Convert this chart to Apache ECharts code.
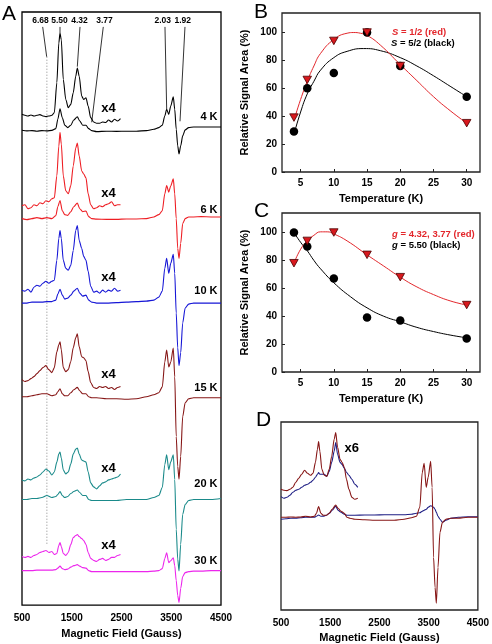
<!DOCTYPE html>
<html><head><meta charset="utf-8">
<script src="https://cdn.jsdelivr.net/npm/echarts@6/dist/echarts.min.js"></script>
<style>html,body{margin:0;padding:0;background:#fff}#c{width:492px;height:644px}</style>
</head><body><div id="c"></div>
<script>
// ---------- Panel A / D spectra (field in Gauss, intensity in arbitrary units) ----------
const fieldMain = [500,600,700,800,900,1000,1100,1180,1220,1264,1310,1360,1420,1480,1540,1612,1660,1720,1786,1840,1900,2000,2200,2400,2600,2800,3000,3150,3250,3320,3370,3408,3450,3490,3541,3570,3600,3630,3656,3690,3730,3780,3850,3950,4100,4300,4500];
const fieldInset = [500,560,620,680,740,800,860,920,980,1040,1100,1150,1200,1240,1264,1290,1330,1380,1430,1480,1530,1580,1612,1650,1700,1740,1786,1830,1880,1940,2000,2060,2120,2180,2240,2300,2360,2420,2480];
const fieldTicks = [500,1500,2500,3500,4500];

const temps = ['4 K','6 K','10 K','15 K','20 K','30 K'];
const tempColors = ['#000000','#EE1D23','#1616D6','#861616','#1A8A8A','#EC26EC'];

const main4K  = [0.7,0,0.3,-0.3,0.3,0,0.5,2.3,11.7,22.3,13.3,5.7,3.3,5.7,11,14.3,10,5.7,5.7,2.3,0.3,-0.7,-0.3,-0.5,-0.3,-0.3,0.3,1.7,3.3,5.7,15,21.7,16.7,25,34.3,21.7,1.7,-15,-23.3,-15,-5,1,3.3,4,4,4,4];
const main6K  = [0,-1,0,1,0,1,0,3,12,18.3,8,4,3.3,7,12,15.7,10,7,7.7,2,0,-0.5,-0.7,-0.7,-0.3,-0.3,0,1.7,4,8,25,33.3,26.7,33,40,25,0,-30,-40,-25,-5,0,1.7,1.7,2,1.7,1.7];
const main10K = [0,0,1,1,1,1.5,1.5,3,9,14,8,4,5,8,12,15,10,7,8,3,1,0,0,0.5,1,1.5,2,3,6,12,35,45,30,40,49,30,-10,-45,-63,-50,-20,-5,-1,0,0,0,0];
const main15K = [0,0,1,2,3,3,1,2,5,8,3,1,1,4,7,9.5,6,3,3,0,-1,-1,-2,-2,-2.5,-2,0,2,4,10,35,47,30,35,49,20,-40,-70,-83,-60,-20,-6,-2,-1,-1,-1,-1];
const main20K = [0,0,1,1,2,4,2,3,5,8,4,2,3,6,8,9.5,7,4,4,0,-1,-1,-1,-1,0,0,0,2,4,12,35,45,30,38,45,20,-30,-60,-72,-45,-15,-5,-1,0,0,0,1];
const main30K = [0,0,0,0.5,0.5,0.5,0.5,1,2.5,4.5,2,1,1.5,3.5,5,6,4.5,3,2.5,0,-1,-1,-1,-1,-1,-1,-1,-0.5,0,2,12,18,8,10,13,5,-10,-25,-32,-18,-6,-2,-1,-0.5,-0.5,0,0];

const inset4K  = [0,-1,-1.7,-0.7,-1.7,-1,-0.3,-1.7,-2.3,-1.7,-1,1.7,31.7,71.7,81.7,75,35,15,6.7,10,21.7,38.3,46.7,38.3,18.3,15,16.7,8.3,-3.3,-7.7,-9,-9,-7.7,-8.3,-5.7,-7.7,-5,-6.7,-4.3];
const inset6K  = [0,1,-3,-2,1,0,3,2,5,4,7,8,30,60,74,62,30,15,12,20,40,58,63,50,35,32,28,12,1,-3,-2,0,-1,1,2,4,0,1,1];
const inset10K = [0,-1,1,-2,3,5,4,7,9,7,9,10,30,52,60,52,30,22,20,25,40,60,65,50,42,34,30,19,4,-2,-1,-3,0,-2,0,-1,2,-1,0];
const inset15K = [0,-2,-1,1,3,6,9,12,14,10,7,12,28,35,38,30,12,8,10,18,32,42,46,33,23,22,19,8,-3,-8,-9,-7,-8,-7,-9,-8,-10,-8,-7];
const inset20K = [0,-1,1,0,2,3,5,8,11,9,5,8,18,26,28,22,10,6,8,16,26,31,32,26,20,19,18,8,-3,-7,-9,-6,-3,-2,0,1,2,3,6];
const inset30K = [0,-1,0,-1,1,2,4,5,6,4,5,2,3,11,14,10,3,1,4,12,19,21,22,20,18,16,12,4,-2,-4,-5,-3,-2,-4,-3,-1,-1,1,2];

const mainSpectra  = [main4K, main6K, main10K, main15K, main20K, main30K];
const insetSpectra = [inset4K, inset6K, inset10K, inset15K, inset20K, inset30K];
const mainOffsetA  = [477.3, 389, 304, 209.7, 106.3, 34.7];
const insetOffsetA = [494, 402, 317, 227, 126, 49];
const tempLabelY   = [491, 397, 316, 218, 121, 44];
const x4LabelY     = [499, 414, 329, 232, 137, 60];

// g-value annotations (panel A)
const gLabels     = ['6.68','5.50','4.32','3.77','2.03','1.92'];
const gLabelField = [882, 1264, 1666, 2168, 3340, 3742];
const gLineTopF   = [916, 1264, 1666, 2134, 3374, 3776];
const gPeakField  = [996, 1264, 1612, 1901, 3408, 3676];
const gPeakY      = [552, 576, 542, 486, 499, 487];

// Panel D
const dMainRed  = [0,0,0.3,0,0.3,1,0.3,1,4,10.7,4,2,2,4,8,12.3,9,6,4,0,-1,-2,-2.5,-3,-3,-3,-2,-0.5,1,10,45,54,30,40,56,30,-40,-70,-86,-50,-15,-5,-2,-1,-1,0,0];
const dMainNavy = [-2,-1.5,-1,-1,-0.5,0,0,0,1,2.3,1,1,2,4,7,11,7,5,3,2,2,2,2.3,2.3,2.5,2.5,2.5,3,4,4.5,6,7,8,10,11.5,11,10,8,5,1,-2,-5,-3,-1,0,0.5,0.5];
const dInsetRed  = [0,-1,-1.3,0,2,7,11,15,19,16,14,16,27,40,47.7,38,20,14,13,20,33,50,56.7,42,30,27,22,10,0,-8,-10,-9];
const dInsetNavy = [-7.3,-9,-8,-6,-3,-1,0,2,4,5,7,9,12,15,16.7,15,15,15,13,18,27,38,46.7,35,27,25,21,17,14,10,5,2];
const dColors = ['#861616','#1E1E84'];
const dMainOffset = 92.7, dInsetOffset = 120.7;

// ---------- Panels B, C ----------
const temperature = [4, 6, 10, 15, 20, 30];
const tempTicks = [5, 10, 15, 20, 25, 30];
const pctTicks = [0, 20, 40, 60, 80, 100];
const bRed   = [39, 66, 94, 100, 76, 35];
const bBlack = [29, 60, 71, 100, 76, 54];
const cRed   = [78, 94, 100, 84, 68, 48];
const cBlack = [100, 90, 67, 39, 37, 24];
const bRedFit   = [[4,37],[5,52],[6,65],[7,76],[8,85],[10,95],[12,99.5],[13,100],[14,99.5],[15,98],[17,91],[20,77],[22.5,65.5],[25,54],[27.5,44],[30,35]];
const bBlackFit = [[4,27],[5,43],[6,56],[7,65],[8,73],[10,82],[12,86.5],[14.5,88.5],[17,87],[20,82],[22.5,76],[25,69],[27.5,61.5],[30,54]];
const cRedFit   = [[4,78],[5,88],[6,94],[7,98],[8,100.5],[9,100.5],[10,99],[12,94],[15,84],[17.5,76],[20,68],[22.5,61],[25,55.5],[27.5,51],[30,48]];
const cBlackFit = [[4,100],[5,93],[6,87],[7,80],[8,74],[10,64],[12.5,54],[15,46],[17.5,40],[20,36],[22.5,32],[25,29],[27.5,26.5],[30,24.5]];

// ---------- build ----------
const FONT = '"Liberation Sans", Arial, sans-serif';
const RED = '#E3262B';
function zip(xs, ys, off) { return ys.map((v, i) => [xs[i], v + off]); }

const chart = echarts.init(document.getElementById('c'), null, {renderer: 'canvas'});
const series = [];

function spec(xi, yi, data, color, w) {
  series.push({type: 'line', xAxisIndex: xi, yAxisIndex: yi, data: data, symbol: 'none', smooth: 0.25, smoothMonotone: 'x',
    lineStyle: {color: color, width: w || 1.1}, silent: true, animation: false, z: 3});
}
function textPts(xi, yi, pts, opts) {
  series.push({type: 'scatter', xAxisIndex: xi, yAxisIndex: yi, symbolSize: 1, silent: true, animation: false,
    itemStyle: {opacity: 0}, z: 6,
    data: pts.map(p => ({value: [p[0], p[1]], name: p[2]})),
    label: Object.assign({show: true, position: [0, 0], formatter: '{b}', color: '#000', opacity: 1,
      textBorderWidth: 0, fontFamily: FONT, fontWeight: 'bold'}, opts)});
}

// Panel A
mainSpectra.forEach((s, i) => spec(0, 0, zip(fieldMain, s, mainOffsetA[i]), tempColors[i]));
insetSpectra.forEach((s, i) => spec(0, 0, zip(fieldInset, s, insetOffsetA[i]), tempColors[i]));
// dotted line at g = 6.68
series.push({type: 'line', xAxisIndex: 0, yAxisIndex: 0, data: [[1000, 552], [1000, 61]], symbol: 'none',
  lineStyle: {color: '#888', width: 1, type: [1, 2]}, silent: true, animation: false, z: 2});
gLabels.forEach((g, i) => {
  series.push({type: 'line', xAxisIndex: 0, yAxisIndex: 0, data: [[gLineTopF[i], 582], [gPeakField[i], gPeakY[i]]],
    symbol: 'none', lineStyle: {color: '#000', width: 0.8}, silent: true, animation: false, z: 4});
});
textPts(0, 0, gLabels.map((g, i) => [gLabelField[i], 588, g]), {fontSize: 8.5, align: 'center', verticalAlign: 'middle'});
textPts(0, 0, temps.map((t, i) => [4440, tempLabelY[i], t]), {fontSize: 11, align: 'right', verticalAlign: 'middle'});
textPts(0, 0, temps.map((t, i) => [2249, x4LabelY[i], 'x4']), {fontSize: 13, align: 'center', verticalAlign: 'middle'});

// Panel D
spec(3, 3, zip(fieldMain, dMainNavy, dMainOffset), dColors[1]);
spec(3, 3, zip(fieldInset, dInsetNavy, dInsetOffset), dColors[1]);
spec(3, 3, zip(fieldMain, dMainRed, dMainOffset), dColors[0]);
spec(3, 3, zip(fieldInset, dInsetRed, dInsetOffset), dColors[0]);
textPts(3, 3, [[1800, 160.7, 'x6']], {fontSize: 13, align: 'left', verticalAlign: 'middle'});

// Panels B & C
function fitLine(idx, data, color) {
  series.push({type: 'line', xAxisIndex: idx, yAxisIndex: idx, data: data, symbol: 'none', smooth: 0.5,
    lineStyle: {color: color, width: 1}, silent: true, animation: false, z: 3});
}
function pts(idx, ys, kind) {
  const tri = kind === 'tri';
  series.push({type: 'scatter', xAxisIndex: idx, yAxisIndex: idx, data: ys.map((v, i) => [temperature[i], v]),
    symbol: tri ? 'triangle' : 'circle', symbolRotate: tri ? 180 : 0, symbolSize: tri ? [8.5, 7.5] : 8.5,
    itemStyle: tri ? {color: '#D8191E', borderColor: '#4a0000', borderWidth: 0.8, opacity: 1} : {color: '#000', opacity: 1},
    silent: true, animation: false, z: tri ? 5 : 4});
}
fitLine(1, bBlackFit, '#000'); fitLine(1, bRedFit, RED);
pts(1, bBlack, 'circ'); pts(1, bRed, 'tri');
fitLine(2, cBlackFit, '#000'); fitLine(2, cRedFit, RED);
pts(2, cBlack, 'circ'); pts(2, cRed, 'tri');

const gridBase = {show: true, borderColor: '#222', borderWidth: 1.3, backgroundColor: 'transparent', containLabel: false};
const lblStyle = {color: '#000', fontFamily: FONT, fontWeight: 'bold', fontSize: 10, formatter: v => String(v)};
const nameStyle = {color: '#000', fontFamily: FONT, fontWeight: 'bold', fontSize: 11};

function fieldAxis(gi) {
  return {type: 'value', gridIndex: gi, min: 500, max: 4500, interval: 500,
    axisLine: {show: false}, axisTick: {show: false}, splitLine: {show: false},
    axisLabel: Object.assign({customValues: fieldTicks, margin: 8}, lblStyle),
    name: 'Magnetic Field (Gauss)', nameLocation: 'middle', nameGap: 22, nameTextStyle: nameStyle};
}
function tempAxis(gi) {
  return {type: 'value', gridIndex: gi, min: 2.2, max: 32,
    axisLine: {show: false}, axisTick: {show: true, customValues: tempTicks, inside: true, length: 3, lineStyle: {color: '#222'}},
    splitLine: {show: false},
    axisLabel: Object.assign({customValues: tempTicks, margin: 6}, lblStyle),
    name: 'Temperature (K)', nameLocation: 'middle', nameGap: 21, nameTextStyle: nameStyle};
}
function pctAxis(gi) {
  return {type: 'value', gridIndex: gi, min: 0, max: 114,
    axisLine: {show: false}, axisTick: {show: true, customValues: pctTicks, inside: true, length: 3, lineStyle: {color: '#222'}},
    splitLine: {show: false},
    axisLabel: Object.assign({customValues: pctTicks, margin: 5}, lblStyle),
    name: 'Relative Signal Area (%)', nameLocation: 'middle', nameGap: 32, nameTextStyle: nameStyle};
}
function blankAxis(gi, max) {
  return {type: 'value', gridIndex: gi, min: 0, max: max, axisLine: {show: false}, axisTick: {show: false},
    axisLabel: {show: false}, splitLine: {show: false}};
}

function letter(t, x, y) {
  return {type: 'text', left: x, top: y, silent: true,
    style: {text: t, fontFamily: FONT, fontSize: 21, fill: '#000'}};
}
function legendText(x, y, text, color) {
  return {type: 'text', x: x, y: y, silent: true,
    style: {text: text, fill: color, fontFamily: FONT, fontWeight: 'bold', fontSize: 9.5, verticalAlign: 'middle',
      rich: {i: {fontStyle: 'italic', fontWeight: 'bold', fontFamily: FONT, fontSize: 9.5, fill: color}}}};
}

chart.setOption({
  animation: false,
  backgroundColor: '#fff',
  grid: [
    Object.assign({left: 22, top: 12, width: 199, height: 597}, gridBase, {borderColor: '#000'}),
    Object.assign({left: 282, top: 13, width: 198, height: 159}, gridBase),
    Object.assign({left: 282, top: 213, width: 198, height: 159}, gridBase),
    Object.assign({left: 281, top: 422, width: 199, height: 188}, gridBase)
  ],
  xAxis: [fieldAxis(0), tempAxis(1), tempAxis(2), fieldAxis(3)],
  yAxis: [blankAxis(0, 597), pctAxis(1), pctAxis(2), blankAxis(3, 188)],
  series: series,
  graphic: [
    letter('A', 2, 4), letter('B', 254, 2), letter('C', 254, 201), letter('D', 256, 410),
    legendText(392, 32, '{i|S} = 1/2 (red)', RED),
    legendText(391, 43.5, '{i|S} = 5/2 (black)', '#000'),
    legendText(392, 234, '{i|g} = 4.32, 3.77 (red)', RED),
    legendText(392, 245.5, '{i|g} = 5.50 (black)', '#000')
  ]
});
</script></body></html>
